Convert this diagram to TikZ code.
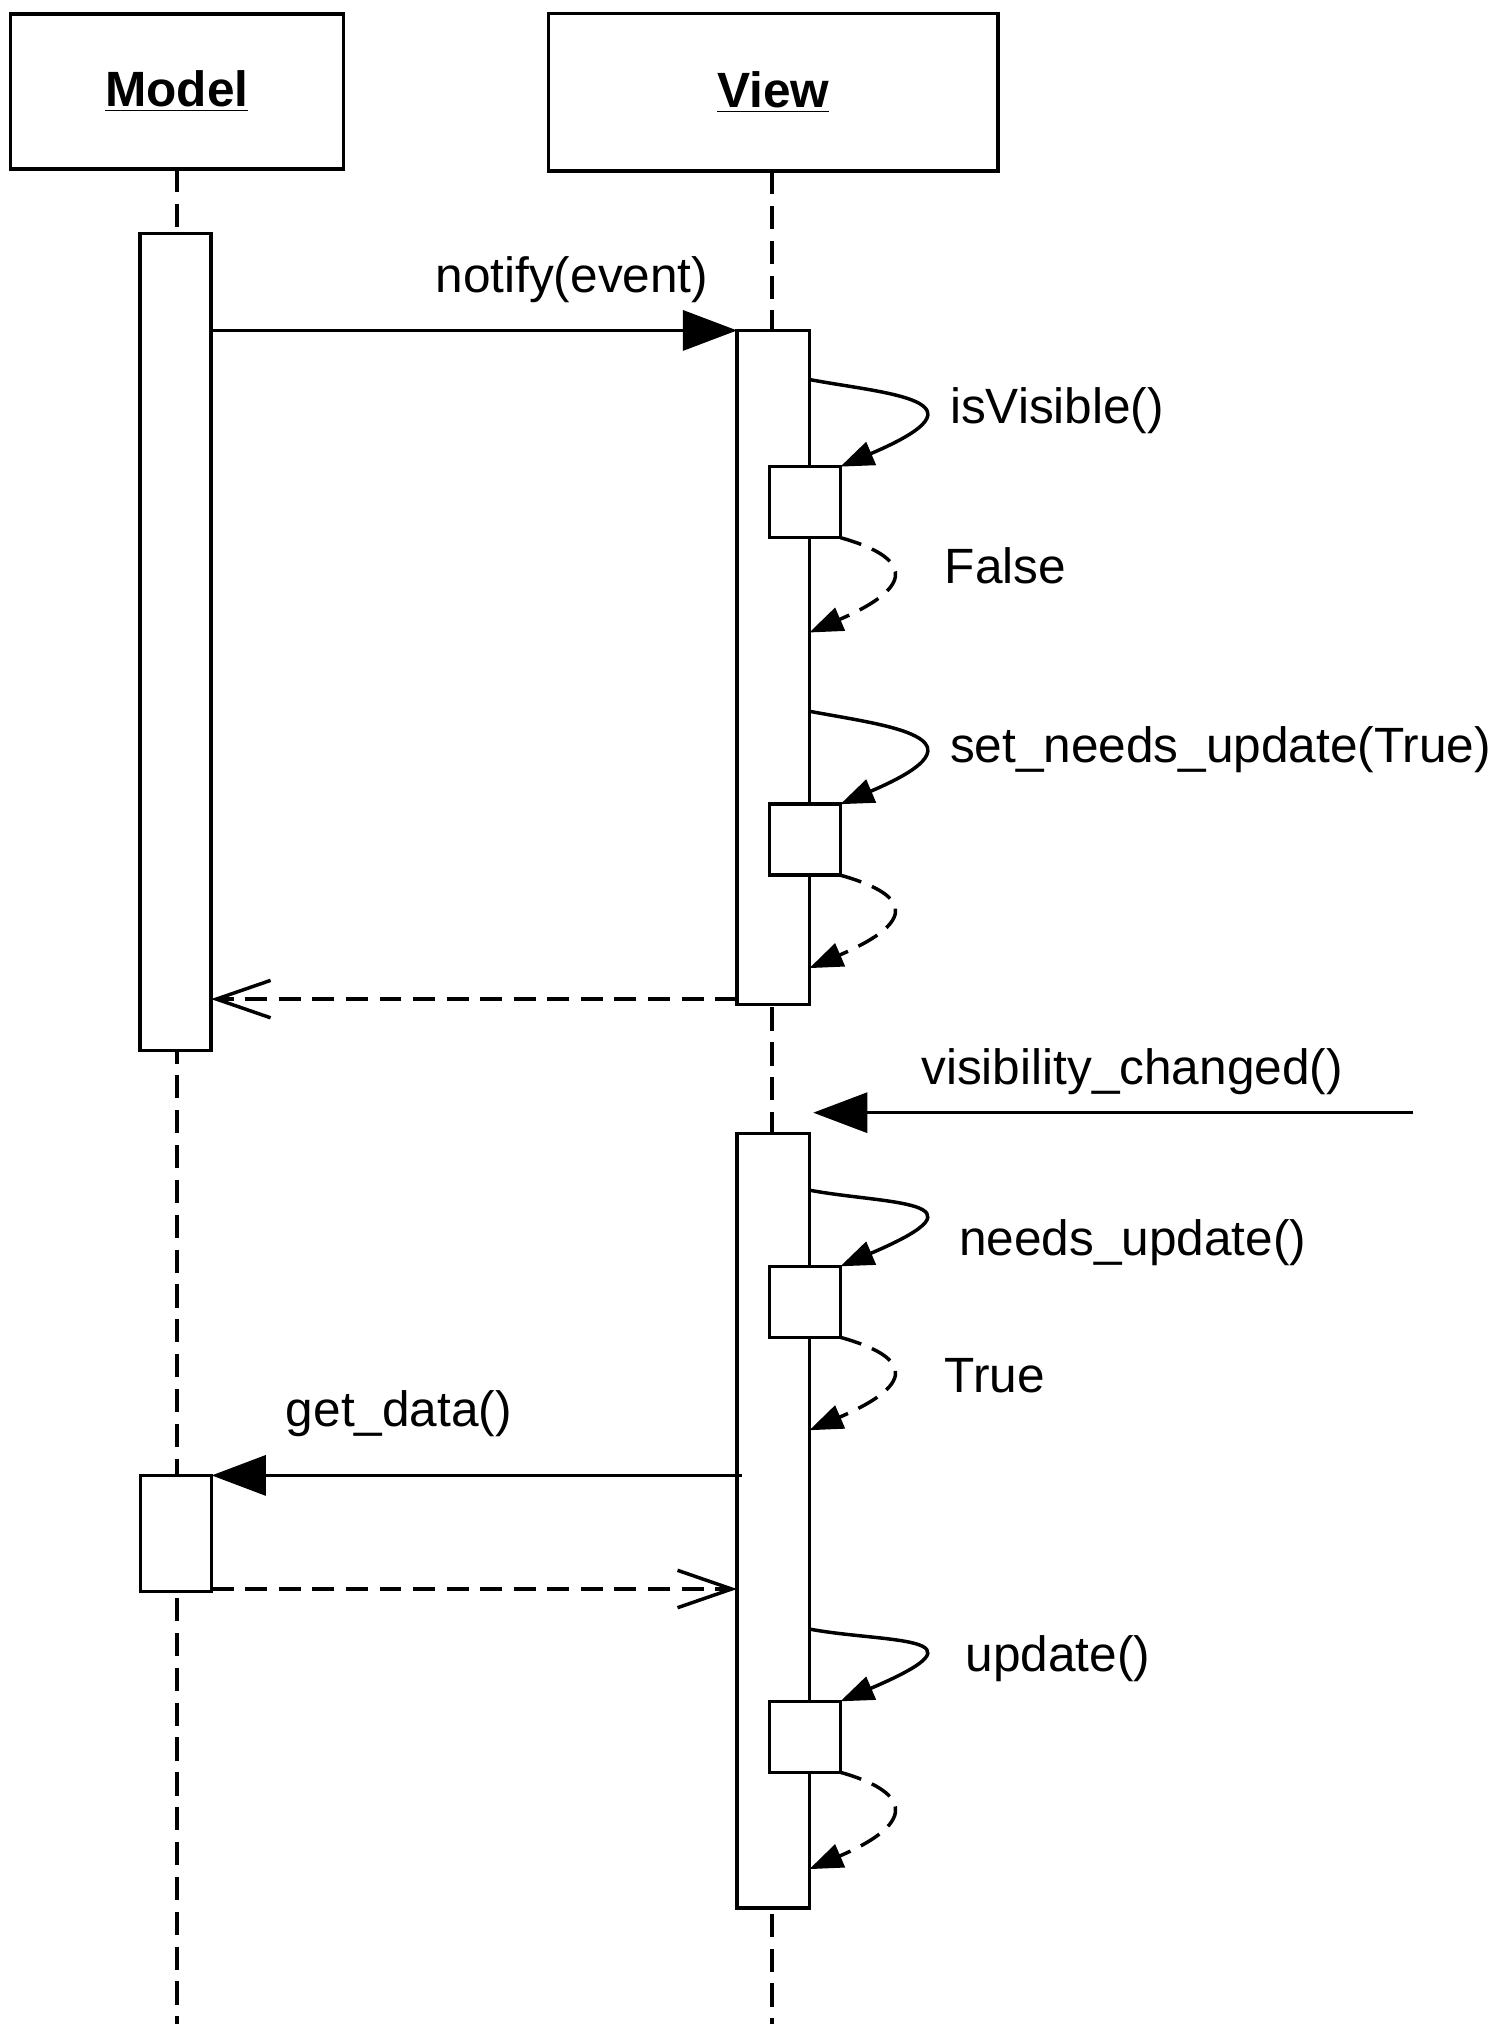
\documentclass[tikz,border=0pt]{standalone}
\usepackage{fontspec}
\setmainfont{Liberation Sans}
\usetikzlibrary{arrows.meta,calc}
\begin{document}
\begin{tikzpicture}[x=0.5pt,y=-0.5pt,line width=1.35pt,
  every node/.style={inner sep=0pt,outer sep=0pt},
  lbl/.style={font=\fontsize{19.2}{23}\selectfont},
  objbox/.style={draw,fill=white,font=\fontsize{19.2}{23}\selectfont\bfseries},
  actbar/.style={draw,fill=white,minimum width=27.5pt},
  selfbox/.style={draw,fill=white,minimum width=27.5pt,minimum height=27.5pt},
  lifeline/.style={dash pattern=on 9pt off 4.5pt},
  msg/.style={-{Triangle[length=21pt,width=15.5pt]}},
  retline/.style={dash pattern=on 8.5pt off 4.5pt,-{Straight Barb[length=21pt,width=14.5pt]}},
  selfmsg/.style={-{Triangle[length=13pt,width=9.5pt]}},
  selfret/.style={dash pattern=on 8.5pt off 4.5pt,-{Triangle[length=13pt,width=9.5pt]}}]
\useasboundingbox (0,0) rectangle (1158,1568);
% object boxes
\node[objbox,minimum width=129pt,minimum height=60pt] (model) at (137,71) {\underline{Model}};
\node[objbox,minimum width=174pt,minimum height=61pt] (view) at (599,71.5) {\underline{View}};
% lifelines
\coordinate (mend) at (137,1568);
\coordinate (vend) at (598,1568);
\draw[lifeline] (model.south) -- (mend);
\draw[lifeline] (view.south -| vend) -- (vend);
% activation bars
\node[actbar,minimum height=316.5pt] (mb1) at (136,497.5) {};
\node[actbar,minimum height=45pt] (mb2) at (136.5,1188) {};
\node[actbar,minimum width=28pt,minimum height=261pt] (vb1) at (599,517) {};
\node[actbar,minimum width=28pt,minimum height=300pt] (vb2) at (599,1178) {};
% self-call boxes
\node[selfbox] (s1) at (623.5,389) {};
\node[selfbox] (s2) at (623.5,650.5) {};
\node[selfbox] (s3) at (623.5,1008.5) {};
\node[selfbox] (s4) at (623.5,1345.5) {};
% notify
\draw[msg] (mb1.east |- vb1.north) -- (vb1.north west);
\node[lbl] (lnot) at (443,217) {notify(event)};
% self calls 1
\coordinate (c1) at (vb1.east |- 0,294);
\coordinate (t1) at (vb1.east |- 0,490);
\draw[selfmsg] (c1) .. controls +(58,11) and +(122,-52) .. (s1.north east);
\draw[selfret] (s1.south east) .. controls +(50,14) and +(88,-38) .. (t1);
\node[lbl,anchor=west] (lisv) at (736,318) {isVisible()};
\node[lbl,anchor=west] (lfalse) at (732,438) {False};
% self calls 2
\coordinate (c2) at (vb1.east |- 0,551);
\coordinate (t2) at (vb1.east |- 0,750);
\draw[selfmsg] (c2) .. controls +(58,11) and +(122,-52) .. (s2.north east);
\draw[selfret] (s2.south east) .. controls +(50,14) and +(88,-38) .. (t2);
\node[lbl,anchor=west] (lsnu) at (736,581) {set\_needs\_update(True)};
% return to model
\coordinate (r1) at (vb1.west |- 0,774);
\coordinate (r1e) at (mb1.east |- 0,774);
\draw[retline] (r1) -- (r1e);
% visibility_changed
\coordinate (vcs) at (1095,862);
\coordinate (vct) at (630,862);
\draw[msg] (vcs) -- (vct);
\node[lbl] (lvis) at (877,830) {visibility\_changed()};
% self calls 3
\coordinate (c3) at (vb2.east |- 0,922);
\coordinate (t3) at (vb2.east |- 0,1108);
\draw[selfmsg] (c3) .. controls +(58,11) and +(122,-52) .. (s3.north east);
\draw[selfret] (s3.south east) .. controls +(50,14) and +(88,-38) .. (t3);
\node[lbl,anchor=west] (lnu) at (743,963) {needs\_update()};
\node[lbl,anchor=west] (ltrue) at (732,1066) {True};
% get_data
\coordinate (gds) at (575,1143);
\draw[msg] (gds) -- (mb2.north east);
\node[lbl] (lgd) at (309,1095) {get\_data()};
\coordinate (r2) at (mb2.east |- 0,1231);
\coordinate (r2e) at (vb2.west |- 0,1231);
\draw[retline] (r2) -- (r2e);
% self calls 4
\coordinate (c4) at (vb2.east |- 0,1262);
\coordinate (t4) at (vb2.east |- 0,1448);
\draw[selfmsg] (c4) .. controls +(58,11) and +(122,-52) .. (s4.north east);
\draw[selfret] (s4.south east) .. controls +(50,14) and +(88,-38) .. (t4);
\node[lbl,anchor=west] (lupd) at (748,1285) {update()};
\end{tikzpicture}
\end{document}
